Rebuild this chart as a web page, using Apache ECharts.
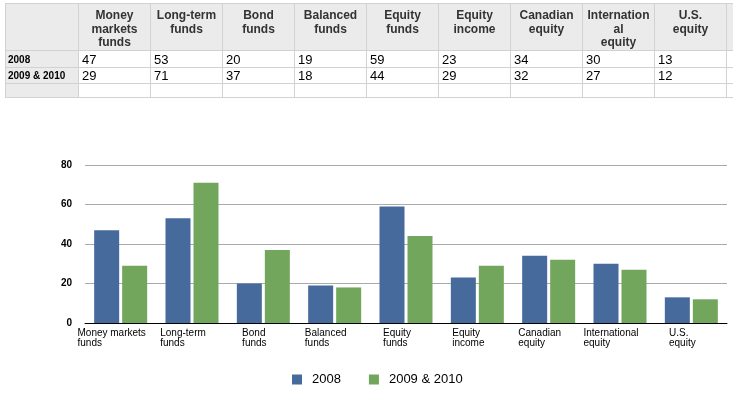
<!DOCTYPE html>
<html>
<head>
<meta charset="utf-8">
<script src="https://cdn.jsdelivr.net/npm/echarts@6/dist/echarts.min.js"></script>
<style>
  html, body { margin: 0; padding: 0; background: #fff; }
  #wrap { position: relative; width: 733px; height: 396px; overflow: hidden; }
  #chart { position: absolute; left: 0; top: 0; width: 733px; height: 396px; }
  #tbl { position: absolute; left: 5px; top: 3px; border-collapse: collapse; table-layout: fixed; font-family: "Liberation Sans", Arial, sans-serif; }
  #tbl td { border: 1px solid #d2d2d2; padding: 0; overflow: hidden; white-space: pre; box-sizing: border-box; }
  #tbl tr.head td { background: #ebebeb; color: #333; font-weight: bold; font-size: 12px; line-height: 13.5px; text-align: center; vertical-align: top; padding-top: 5px; height: 47px; }
  #tbl td.rowlab { background: #ebebeb; font-weight: bold; font-size: 10px; color: #000; padding-left: 2px; }
  #tbl td.val { font-size: 13px; color: #000; padding-left: 3px; background: #fff; }
</style>
</head>
<body>
<div id="wrap">
  <div id="chart"></div>
  <table id="tbl"></table>
</div>
<script>
var categories = ['Money markets funds', 'Long-term funds', 'Bond funds', 'Balanced funds', 'Equity funds', 'Equity income', 'Canadian equity', 'International equity', 'U.S. equity'];
var tableHeaders = ['Money\nmarkets\nfunds', 'Long-term\nfunds', 'Bond\nfunds', 'Balanced\nfunds', 'Equity\nfunds', 'Equity\nincome', 'Canadian\nequity', 'Internation\nal\nequity', 'U.S.\nequity'];
var axisTickLabels = ['Money markets\nfunds', 'Long-term\nfunds', 'Bond\nfunds', 'Balanced\nfunds', 'Equity\nfunds', 'Equity\nincome', 'Canadian\nequity', 'International\nequity', 'U.S.\nequity'];
var seriesNames = ['2008', '2009 & 2010'];
var values2008 = [47, 53, 20, 19, 59, 23, 34, 30, 13];
var values2009_2010 = [29, 71, 37, 18, 44, 29, 32, 27, 12];
var yTicks = [0, 20, 40, 60, 80];

// ---- table ----
(function () {
  var tbl = document.getElementById('tbl');
  var colW = [73].concat(tableHeaders.map(function () { return 72; })).concat([8]);
  var cg = document.createElement('colgroup');
  colW.forEach(function (w) { var c = document.createElement('col'); c.style.width = w + 'px'; cg.appendChild(c); });
  tbl.appendChild(cg);
  tbl.style.width = colW.reduce(function (a, b) { return a + b; }, 0) + 'px';
  var head = document.createElement('tr'); head.className = 'head';
  var h0 = document.createElement('td'); head.appendChild(h0);
  tableHeaders.forEach(function (h) { var td = document.createElement('td'); td.textContent = h; head.appendChild(td); });
  head.appendChild(document.createElement('td'));
  tbl.appendChild(head);
  var rows = [[seriesNames[0], values2008, 17], [seriesNames[1], values2009_2010, 16], ['', null, 14]];
  rows.forEach(function (r) {
    var tr = document.createElement('tr');
    var lab = document.createElement('td'); lab.className = 'rowlab'; lab.textContent = r[0]; lab.style.height = r[2] + 'px'; tr.appendChild(lab);
    for (var i = 0; i < categories.length; i++) {
      var td = document.createElement('td'); td.className = 'val'; td.style.height = r[2] + 'px';
      td.textContent = r[1] ? String(r[1][i]) : '';
      tr.appendChild(td);
    }
    var e = document.createElement('td'); e.className = 'val'; tr.appendChild(e);
    tbl.appendChild(tr);
  });
})();

// ---- chart ----
var chart = echarts.init(document.getElementById('chart'), null, { renderer: 'canvas' });
var font = '"Liberation Sans", Arial, sans-serif';
chart.setOption({
  animation: false,
  color: ['#466a9c', '#72a65c'],
  grid: { left: 85, right: 6, top: 165, bottom: 73, outerBoundsMode: 'none', containLabel: false },
  legend: {
    data: seriesNames,
    left: 292, top: 373, padding: 0,
    itemWidth: 10, itemHeight: 10, itemGap: 28,
    icon: 'rect',
    textStyle: { fontFamily: font, fontSize: 13, color: '#000', padding: [0, 0, 0, 5] }
  },
  xAxis: {
    type: 'category',
    data: categories,
    axisLine: { lineStyle: { color: '#000', width: 1 } },
    axisTick: { show: false },
    axisLabel: {
      interval: 0,
      margin: 5,
      padding: [0, 18, 0, 0],
      formatter: function (v, idx) {
        return axisTickLabels[idx].split('\n').map(function (s) { return '{a|' + s + '}'; }).join('\n');
      },
      rich: { a: { align: 'left', fontFamily: font, fontSize: 10, lineHeight: 10, color: '#000' } }
    }
  },
  yAxis: {
    type: 'value',
    min: yTicks[0], max: yTicks[yTicks.length - 1], interval: 20,
    axisLine: { show: false },
    axisTick: { show: false },
    axisLabel: { margin: 13, fontFamily: font, fontSize: 10, fontWeight: 'bold', color: '#000' },
    splitLine: { lineStyle: { color: '#aaaaaa', width: 1 } }
  },
  series: [
    { name: seriesNames[0], type: 'bar', data: values2008, barWidth: 25, barGap: '12%' },
    { name: seriesNames[1], type: 'bar', data: values2009_2010, barWidth: 25, barGap: '12%' }
  ]
});
</script>
</body>
</html>
